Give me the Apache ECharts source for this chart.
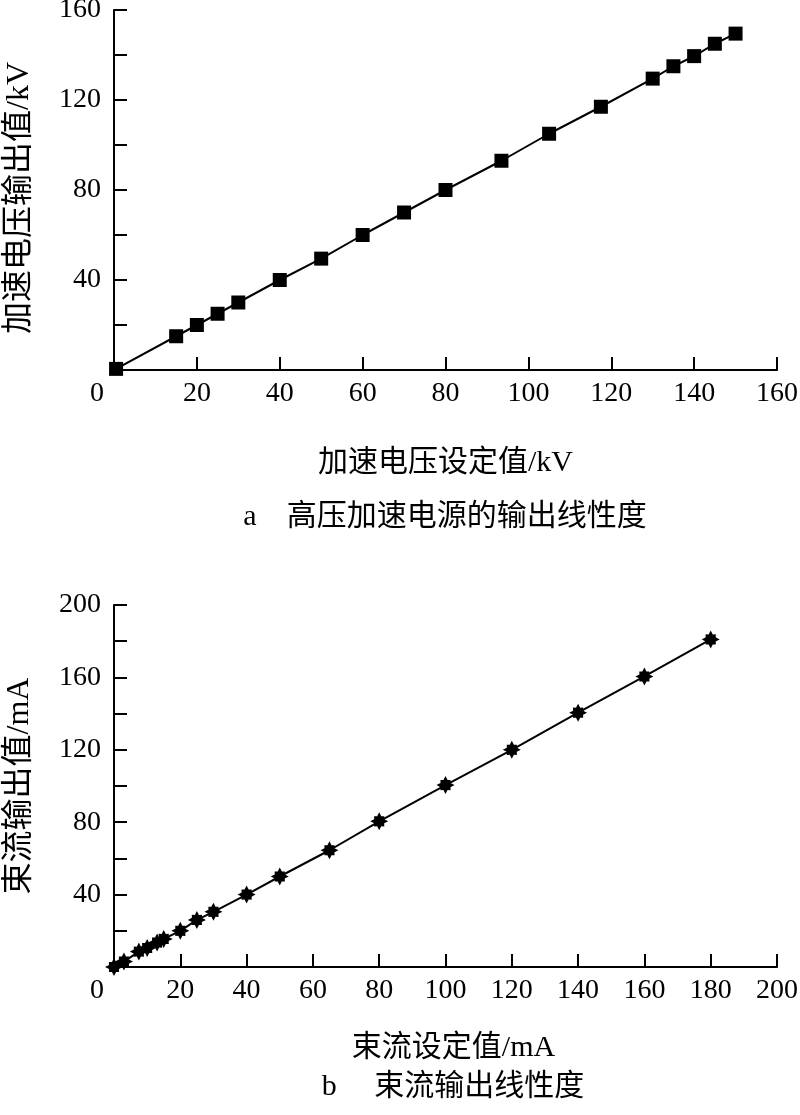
<!DOCTYPE html>
<html>
<head>
<meta charset="utf-8">
<script src="https://cdn.jsdelivr.net/npm/echarts@6/dist/echarts.min.js"></script>
<style>
html,body{margin:0;padding:0;background:#fff;}
#chart{width:800px;height:1115px;}
</style>
</head>
<body>
<div id="chart"></div>
<script>
// Chart a: accelerating high-voltage output linearity
const voltSet = [0.5, 15, 20, 25, 30, 40, 50, 60, 70, 80, 93.5, 105, 117.5, 130, 135, 140, 145, 150];
const voltOut = [0.5, 15, 20, 25, 30, 40, 49.5, 60, 70, 80, 93, 105, 117, 129.5, 135, 139.5, 145, 149.5];
// Chart b: beam current output linearity
const beamSet = [0, 3, 7.5, 10, 13, 15, 20, 25, 30, 40, 50, 65, 80, 100, 120, 140, 160, 180];
const beamOut = [0, 3, 8.5, 10.5, 13.5, 15.5, 20, 26, 30.5, 40, 50, 64.5, 80.5, 100.5, 120, 140.5, 160.5, 181];

const xNameA = '加速电压设定值/kV';
const yNameA = '加速电压输出值/kV';
const captionA = 'a    高压加速电源的输出线性度';
const xNameB = '束流设定值/mA';
const yNameB = '束流输出值/mA';
const captionB = 'b     束流输出线性度';

const FONT = '"Liberation Serif", "Noto Sans CJK SC", serif';
const black = '#000';

function xAxisCfg(gridIndex, max, name, gap, namePad) {
  return {
    type: 'value', gridIndex, min: 0, max, interval: 20,
    name, nameLocation: 'middle', nameGap: gap,
    nameTextStyle: { fontFamily: FONT, fontSize: 30, color: black, padding: namePad },
    axisLine: { show: true, lineStyle: { color: black, width: 2 } },
    axisTick: { show: true, inside: true, length: 13, lineStyle: { color: black, width: 2 } },
    splitLine: { show: false },
    axisLabel: {
      fontFamily: FONT, fontSize: 28, color: black, margin: 10,
      formatter: v => v === 0 ? '{z|0}' : String(v),
      rich: { z: { fontFamily: FONT, fontSize: 28, color: black, padding: [0, 34, 0, 0] } }
    }
  };
}
function yAxisCfg(gridIndex, max, name, namePad) {
  return {
    type: 'value', gridIndex, min: 0, max, interval: 20,
    name, nameLocation: 'middle', nameGap: 78, nameRotate: 90,
    nameTextStyle: { fontFamily: FONT, fontSize: 32, color: black, padding: namePad },
    axisLine: { show: true, lineStyle: { color: black, width: 2 } },
    axisTick: { show: true, inside: true, length: 13, lineStyle: { color: black, width: 2 } },
    splitLine: { show: false },
    axisLabel: {
      fontFamily: FONT, fontSize: 28, color: black, margin: 13,
      formatter: v => (v !== 0 && v % 40 === 0) ? String(v) : ''
    }
  };
}
function pairs(xs, ys) { return xs.map((x, i) => [x, ys[i]]); }

const crossPath = 'path://M10,0 L5.54,2.3 L5.66,5.66 L2.3,5.54 L0,10 L-2.3,5.54 L-5.66,5.66 L-5.54,2.3 L-10,0 L-5.54,-2.3 L-5.66,-5.66 L-2.3,-5.54 L0,-10 L2.3,-5.54 L5.66,-5.66 L5.54,-2.3 Z';

const chart = echarts.init(document.getElementById('chart'), null, { renderer: 'canvas' });
chart.setOption({
  backgroundColor: '#fff',
  animation: false,
  grid: [
    { left: 114, right: 23, top: 10, height: 360, containLabel: false, outerBoundsMode: 'none' },
    { left: 114, right: 23, top: 605, height: 362, containLabel: false, outerBoundsMode: 'none' }
  ],
  xAxis: [xAxisCfg(0, 160, xNameA, 78, [0, 0, 0, 0]), xAxisCfg(1, 200, xNameB, 66, [0, 0, 0, 16])],
  yAxis: [yAxisCfg(0, 160, yNameA, [0, 16, 0, 0]), yAxisCfg(1, 200, yNameB, [0, 0, 0, 0])],
  series: [
    {
      type: 'line', xAxisIndex: 0, yAxisIndex: 0, data: pairs(voltSet, voltOut),
      symbol: 'rect', symbolSize: 14, showAllSymbol: true,
      lineStyle: { color: black, width: 2 }, itemStyle: { color: black }, clip: false
    },
    {
      type: 'line', xAxisIndex: 1, yAxisIndex: 1, data: pairs(beamSet, beamOut),
      symbol: crossPath, symbolSize: 18, showAllSymbol: true,
      lineStyle: { color: black, width: 2 }, itemStyle: { color: black }, clip: false
    }
  ],
  graphic: [
    { type: 'text', x: 445, y: 517, style: { text: captionA, font: '30px ' + FONT, fill: black, align: 'center', verticalAlign: 'middle' } },
    { type: 'text', x: 453, y: 1087, style: { text: captionB, font: '30px ' + FONT, fill: black, align: 'center', verticalAlign: 'middle' } }
  ]
});
</script>
</body>
</html>
